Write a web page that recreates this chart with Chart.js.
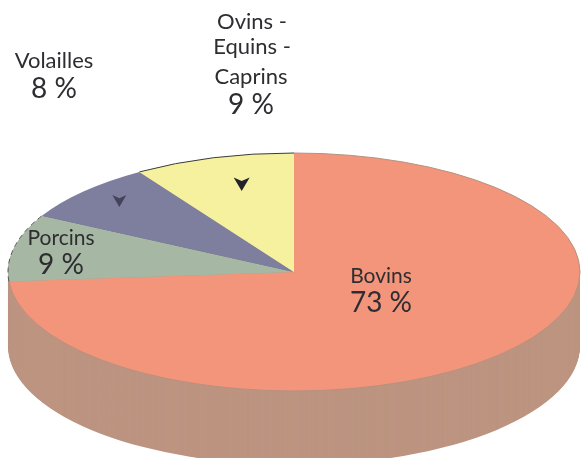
<!DOCTYPE html>
<html>
<head>
<meta charset="utf-8">
<style>
  html, body { margin: 0; padding: 0; background: #fff; }
  canvas { display: block; }
</style>
<script src="https://cdn.jsdelivr.net/npm/chart.js@4/dist/chart.umd.min.js"></script>
</head>
<body>
<canvas id="pie" width="582" height="458"></canvas>
<script>
const categories = ['Bovins', 'Porcins', 'Volailles', 'Ovins - Equins - Caprins'];
const shares = [73, 9, 8, 9];
const topColors = ['#f2957b', '#a6b7a4', '#7e7e9e', '#f6f19f'];
const sideColors = ['#bc9480', '#bc9480', '#6a6a85', '#cfca88'];

// the pie is drawn flat by Chart.js, then squashed into an ellipse
const tilt = { cx: 294, cy: 272, rx: 286, ry: 119, depth: 74 };

// x, y, font size for every line of text
const labelLines = [
    ['Volailles', 54, 61, 22],
    ['8 %', 54, 89, 28],
    ['Ovins -', 252, 22, 22],
    ['Equins -', 252, 47, 22],
    ['Caprins', 251, 77, 22],
    ['9 %', 251, 105, 28],
    ['Porcins', 61, 238, 21],
    ['9 %', 61, 265, 28],
    ['Bovins', 381, 276, 21],
    ['73 %', 381, 303, 28]
];

function applyTilt(ctx, arc, shiftY) {
    const k = tilt.rx / arc.outerRadius;
    const m = tilt.ry / arc.outerRadius;
    ctx.translate(tilt.cx, tilt.cy + shiftY);
    ctx.scale(k, m);
    ctx.translate(-arc.x, -arc.y);
}

function sector(ctx, arc) {
    ctx.beginPath();
    ctx.moveTo(arc.x, arc.y);
    ctx.arc(arc.x, arc.y, arc.outerRadius, arc.startAngle, arc.endAngle);
    ctx.closePath();
}

function rim(ctx, arc, color, dash) {
    ctx.save();
    ctx.save();
    applyTilt(ctx, arc, 0);
    ctx.beginPath();
    ctx.arc(arc.x, arc.y, arc.outerRadius, arc.startAngle, arc.endAngle);
    ctx.restore();
    ctx.strokeStyle = color;
    ctx.lineWidth = 1;
    ctx.setLineDash(dash);
    ctx.stroke();
    ctx.restore();
}

// small black arrow head inside a slice
function arrowHead(ctx, arc, along, share, size, color) {
    const mid = arc.startAngle + (arc.endAngle - arc.startAngle) * along;
    const x = tilt.cx + Math.cos(mid) * tilt.rx * share;
    const y = tilt.cy + Math.sin(mid) * tilt.ry * share;
    ctx.save();
    ctx.fillStyle = color;
    ctx.beginPath();
    ctx.moveTo(x - size, y - size * 0.7);
    ctx.lineTo(x, y - size * 0.25);
    ctx.lineTo(x + size, y - size * 0.7);
    ctx.lineTo(x, y + size);
    ctx.closePath();
    ctx.fill();
    ctx.restore();
}

const tiltedPie = {
    id: 'tiltedPie',
    beforeDatasetsDraw(chart) {
        const ctx = chart.ctx;
        const arcs = chart.getDatasetMeta(0).data;

        // side wall: the slices repeated downwards, darker
        for (let d = tilt.depth; d > 0; d--) {
            arcs.forEach(function (arc, i) {
                ctx.save();
                applyTilt(ctx, arc, d);
                sector(ctx, arc);
                ctx.fillStyle = sideColors[i];
                ctx.fill();
                ctx.restore();
            });
        }

        ctx.save();
        applyTilt(ctx, arcs[0], 0);
    },
    afterDatasetsDraw(chart) {
        const ctx = chart.ctx;
        const arcs = chart.getDatasetMeta(0).data;
        ctx.restore();

        rim(ctx, arcs[0], '#b8917f', []);
        rim(ctx, arcs[1], '#55585a', [5, 4]);
        rim(ctx, arcs[3], '#3a3a3a', []);

        arrowHead(ctx, arcs[3], 0.58, 0.77, 8, '#23232b');
        arrowHead(ctx, arcs[2], 0.57, 0.86, 7, '#43435a');

        ctx.save();
        ctx.fillStyle = '#2e2e32';
        ctx.textAlign = 'center';
        ctx.textBaseline = 'middle';
        labelLines.forEach(function (line) {
            ctx.font = line[3] + 'px Lato';
            ctx.fillText(line[0], line[1], line[2]);
        });
        ctx.restore();
    }
};

new Chart(document.getElementById('pie').getContext('2d'), {
    type: 'pie',
    data: {
        labels: categories,
        datasets: [{
            data: shares,
            backgroundColor: topColors,
            borderWidth: 0,
            clip: false
        }]
    },
    options: {
        responsive: false,
        animation: false,
        plugins: { legend: { display: false }, tooltip: { enabled: false } }
    },
    plugins: [tiltedPie]
});
</script>
</body>
</html>
